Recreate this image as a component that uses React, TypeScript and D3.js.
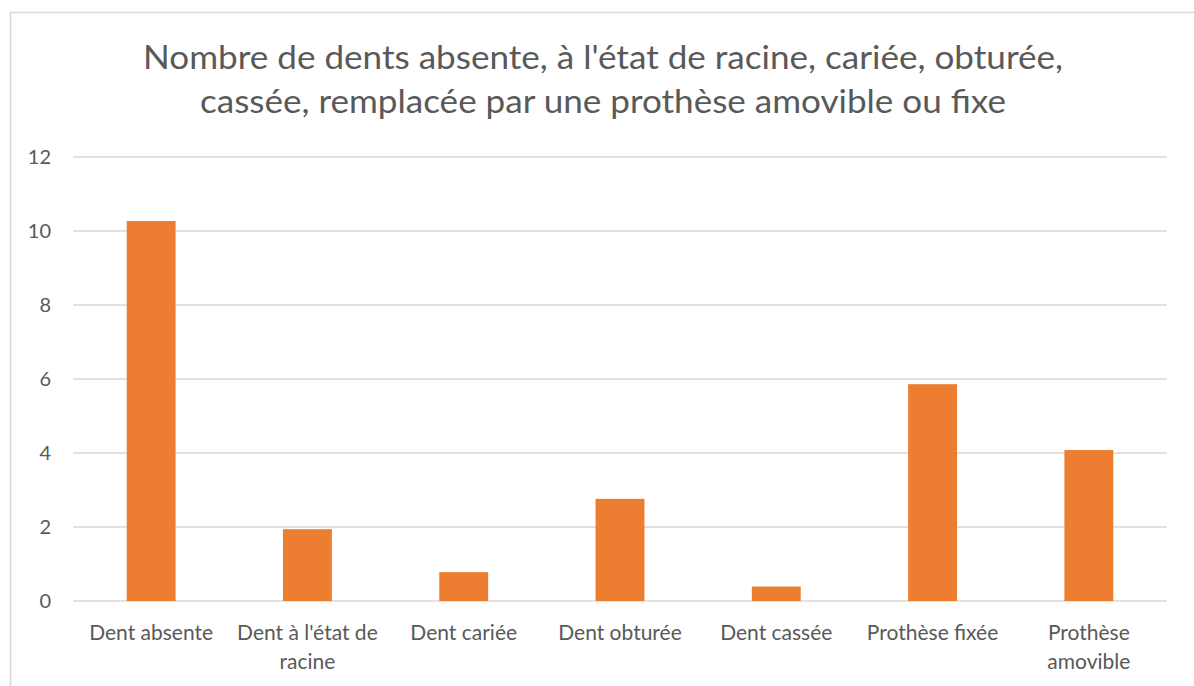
import React, { useEffect, useRef } from "react";
import * as d3 from "d3";

const categories = [
  "Dent absente",
  "Dent à l'état de racine",
  "Dent cariée",
  "Dent obturée",
  "Dent cassée",
  "Prothèse fixée",
  "Prothèse amovible",
];
const values = [10.27, 1.94, 0.78, 2.76, 0.39, 5.86, 4.08];
const yTicks = [0, 2, 4, 6, 8, 10, 12];
const titleLines = [
  "Nombre de dents absente, à l'état de racine, cariée, obturée,",
  "cassée, remplacée par une prothèse amovible ou fixe",
];

const W = 1194;
const H = 686;
const FONT = "Lato, 'Open Sans', sans-serif";
const TEXT = "#595959";

export default function App() {
  const ref = useRef<SVGSVGElement>(null);

  useEffect(() => {
    const svg = d3.select(ref.current);
    svg.selectAll("*").remove();

    const left = 73, right = 1167, top = 157, bottom = 601;

    svg.append("rect").attr("x", 0).attr("y", 0).attr("width", W).attr("height", H).attr("fill", "#fff");
    svg.append("rect").attr("x", 10.5).attr("y", 12.5).attr("width", 1300).attr("height", 800)
      .attr("fill", "none").attr("stroke", "#d9d9d9").attr("stroke-width", 1.5);

    const x = d3.scaleBand().domain(categories).range([left, right]).paddingInner(0.687).paddingOuter(0.3435);
    const y = d3.scaleLinear().domain([0, 12]).range([bottom, top]);

    // title
    const titleW = [920, 806];
    titleLines.forEach((t, i) => {
      svg.append("text").attr("x", (left + right) / 2 - 17).attr("y", 69 + i * 44)
        .attr("text-anchor", "middle").attr("font-family", FONT).attr("font-size", 33)
        .attr("fill", TEXT).attr("textLength", titleW[i]).attr("lengthAdjust", "spacingAndGlyphs").text(t);
    });

    // grid
    svg.append("g").selectAll("line").data(yTicks).join("line")
      .attr("x1", left).attr("x2", right)
      .attr("y1", d => y(d)).attr("y2", d => y(d))
      .attr("stroke", "#d9d9d9").attr("stroke-width", 1.5);

    svg.append("g").selectAll("text").data(yTicks).join("text")
      .attr("x", 51).attr("y", d => y(d)).attr("dy", "0.36em")
      .attr("text-anchor", "end").attr("font-family", FONT).attr("font-size", 20)
      .attr("fill", TEXT).text(d => d);

    // bars
    svg.append("g").selectAll("rect").data(values).join("rect")
      .attr("x", (_, i) => x(categories[i])!).attr("width", x.bandwidth())
      .attr("y", d => y(d)).attr("height", d => y(0) - y(d))
      .attr("fill", "#ed7d31");

    // category labels with wrap
    const step = x.step();
    const ly = 640;
    categories.forEach((c) => {
      const cx = x(c)! + x.bandwidth() / 2;
      const t = svg.append("text").attr("x", cx).attr("y", ly)
        .attr("text-anchor", "middle").attr("font-family", FONT).attr("font-size", 21)
        .attr("fill", TEXT);
      const words = c.split(" ");
      let line: string[] = [];
      let lineNo = 0;
      let tspan = t.append("tspan").attr("x", cx).attr("y", ly);
      for (const w of words) {
        line.push(w);
        tspan.text(line.join(" "));
        if ((tspan.node() as SVGTSpanElement).getComputedTextLength() > step - 8 && line.length > 1) {
          line.pop();
          tspan.text(line.join(" "));
          line = [w];
          lineNo++;
          tspan = t.append("tspan").attr("x", cx).attr("y", ly + lineNo * 29).text(w);
        }
      }
    });
  }, []);

  return (
    <svg ref={ref} width={W} height={H} style={{ position: "fixed", left: 0, top: 0 }} />
  );
}
